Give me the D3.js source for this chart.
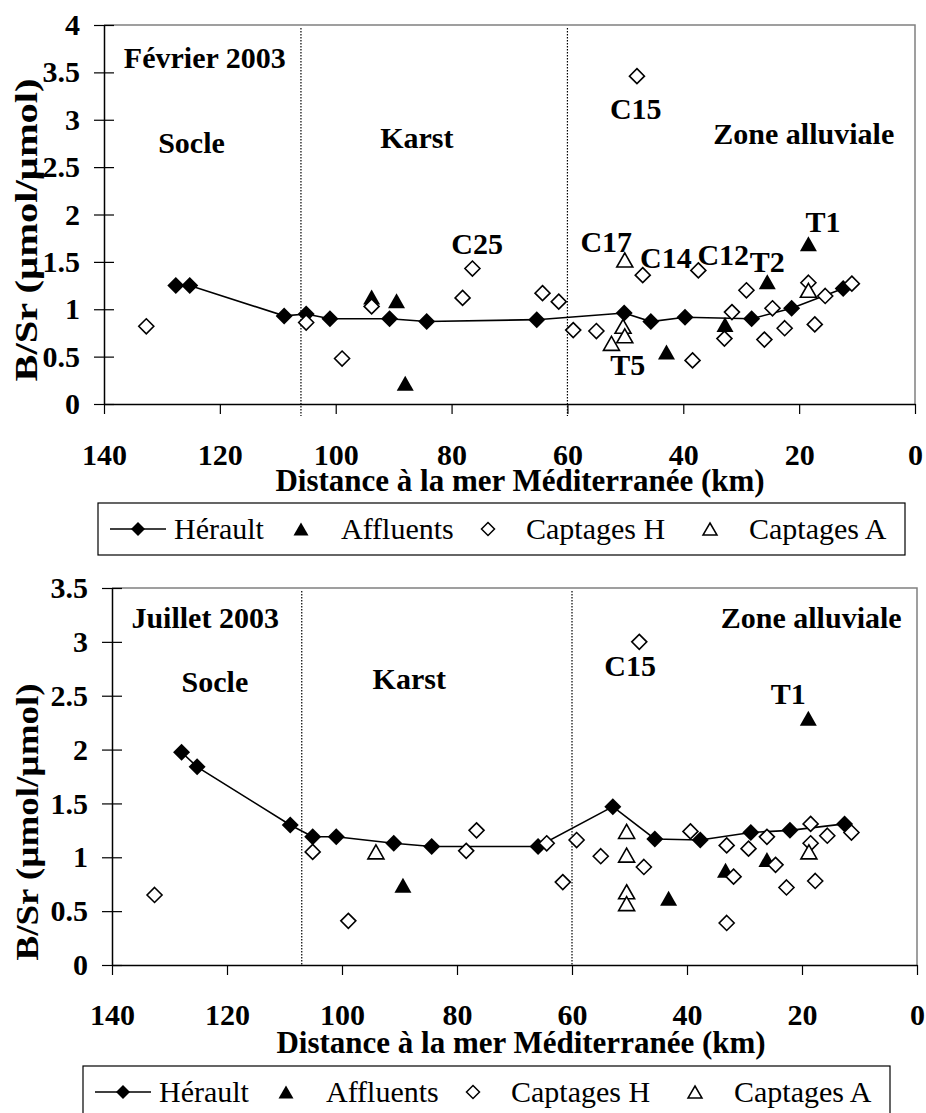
<!DOCTYPE html>
<html><head><meta charset="utf-8">
<script src="https://cdn.jsdelivr.net/npm/d3@7"></script>
<style>
body{margin:0;background:#fff}
svg{display:block}
text{font-family:"Liberation Serif","Times New Roman",serif;fill:#000}
</style>
</head><body>
<svg id="chart" width="926" height="1113"></svg>
<script>
// ---------- shared ----------
const xTicks = [140, 120, 100, 80, 60, 40, 20, 0];
const seriesNames = ["Hérault", "Affluents", "Captages H", "Captages A"];
const xTitle = "Distance à la mer Méditerranée (km)";
const yTitle = "B/Sr (µmol/µmol)";

// ---------- Février 2003 ----------
const febYTicks = [0, 0.5, 1, 1.5, 2, 2.5, 3, 3.5, 4];
const febHeraultKm  = [127.6, 125.2, 108.9, 105.1, 101.0, 90.7, 84.3, 65.3, 50.2, 45.6, 39.7, 28.2, 21.3, 12.4];
const febHeraultVal = [1.25, 1.25, 0.93, 0.95, 0.90, 0.90, 0.87, 0.89, 0.96, 0.87, 0.915, 0.90, 1.01, 1.22];
const febAffKm  = [93.8, 89.5, 88.0, 42.9, 32.8, 25.5, 18.4];
const febAffVal = [1.13, 1.09, 0.22, 0.55, 0.84, 1.29, 1.69];
const febCapHKm  = [132.7, 105.1, 98.9, 93.8, 78.1, 76.4, 64.3, 61.5, 59.0, 55.0, 48.0, 47.0, 38.4, 37.4, 32.9, 31.6, 29.1, 26.0, 24.6, 22.5, 18.4, 17.3, 15.5, 10.9];
const febCapHVal = [0.82, 0.86, 0.48, 1.03, 1.12, 1.43, 1.17, 1.08, 0.78, 0.77, 3.46, 1.36, 0.46, 1.41, 0.69, 0.97, 1.20, 0.68, 1.01, 0.80, 1.28, 0.84, 1.14, 1.27];
const febCapAKm  = [52.4, 50.4, 50.1, 50.1, 18.4];
const febCapAVal = [0.64, 0.82, 0.72, 1.52, 1.20];
const febZoneLimits = [106, 60];
const febLabelText = ["Février 2003", "Socle", "Karst", "C25", "C15", "Zone alluviale", "C17", "C14", "C12", "T2", "T1", "T5"];
const febLabelKm   = [122.6, 124.9, 86.0, 75.6, 48.2, 19.2, 53.3, 43.0, 33.1, 25.5, 15.9, 49.6];
const febLabelVal  = [3.55, 2.65, 2.70, 1.58, 3.01, 2.74, 1.60, 1.44, 1.47, 1.39, 1.82, 0.31];

// ---------- Juillet 2003 ----------
const julYTicks = [0, 0.5, 1, 1.5, 2, 2.5, 3, 3.5];
const julHeraultKm  = [127.9, 125.2, 109.0, 105.1, 101.0, 91.0, 84.4, 65.9, 52.9, 45.6, 37.7, 28.9, 22.1, 12.6];
const julHeraultVal = [1.975, 1.84, 1.30, 1.19, 1.19, 1.13, 1.10, 1.10, 1.47, 1.17, 1.16, 1.23, 1.25, 1.31];
const julAffKm  = [89.4, 43.2, 33.3, 26.1, 18.9];
const julAffVal = [0.74, 0.62, 0.88, 0.98, 2.29];
const julCapHKm  = [132.6, 105.1, 98.9, 78.4, 76.6, 64.4, 61.6, 59.2, 55.0, 48.3, 47.5, 39.4, 33.1, 33.1, 31.9, 29.3, 26.1, 24.6, 22.7, 18.5, 18.5, 17.7, 15.6, 11.4];
const julCapHVal = [0.65, 1.05, 0.41, 1.06, 1.25, 1.13, 0.77, 1.16, 1.01, 3.00, 0.91, 1.24, 1.11, 0.39, 0.82, 1.08, 1.19, 0.93, 0.72, 1.31, 1.13, 0.78, 1.20, 1.23];
const julCapAKm  = [94.1, 50.5, 50.5, 50.5, 50.5, 18.8];
const julCapAVal = [1.05, 1.24, 1.02, 0.68, 0.57, 1.05];
const julZoneLimits = [107, 60];
const julLabelText = ["Juillet 2003", "Socle", "Karst", "Zone alluviale", "C15", "T1"];
const julLabelKm   = [123.8, 122.1, 88.3, 18.4, 49.9, 22.4];
const julLabelVal  = [3.13, 2.53, 2.56, 3.13, 2.68, 2.42];

// ---------- drawing ----------
const svg = d3.select("#chart");
const zip = (a, b) => a.map((v, i) => [v, b[i]]);

const diamondPath = r => `M0,${-r}L${r},0L0,${r}L${-r},0Z`;
const triPath = (w, h) => `M0,${-h/2}L${w/2},${h/2}L${-w/2},${h/2}Z`;

function panel(cfg) {
  const g = svg.append("g");
  const x = d3.scaleLinear().domain([140, 0]).range([cfg.left, cfg.right]);
  const y = d3.scaleLinear().domain([0, cfg.yMax]).range([cfg.bottom, cfg.top]);

  // plot-area border (grey top/right)
  g.append("path")
    .attr("d", `M${cfg.left},${cfg.top}H${cfg.right}V${cfg.bottom}`)
    .attr("fill", "none").attr("stroke", "#808080").attr("stroke-width", 1.5);

  // zone limits (dotted)
  g.selectAll(".zone").data(cfg.zones).enter().append("line")
    .attr("x1", d => x(d)).attr("x2", d => x(d))
    .attr("y1", cfg.top + 3).attr("y2", cfg.bottom + cfg.zoneExtra)
    .attr("stroke", "#000").attr("stroke-width", 1.2).attr("stroke-dasharray", "1.5,1.5");

  // y axis
  const ya = g.append("g").attr("transform", `translate(${cfg.left},0)`)
    .call(d3.axisLeft(y).tickValues(cfg.yTicks).tickSize(10).tickSizeOuter(0).tickPadding(14).tickFormat(d => String(d)));
  ya.select(".domain").attr("stroke", "#000").attr("stroke-width", 1.5);
  ya.selectAll(".tick line").attr("x1", 10).attr("stroke", "#000").attr("stroke-width", 1.2);
  ya.selectAll(".tick text").attr("font-size", 30).attr("font-weight", "bold")
    .attr("font-family", "Liberation Serif").attr("fill", "#000");

  // x axis
  const xa = g.append("g").attr("transform", `translate(0,${cfg.bottom})`)
    .call(d3.axisBottom(x).tickValues(xTicks).tickSize(10).tickSizeOuter(0).tickFormat(d => String(d)));
  xa.select(".domain").attr("stroke", "#000").attr("stroke-width", 1.5);
  xa.selectAll(".tick line").attr("stroke", "#000").attr("stroke-width", 1.2);
  xa.selectAll(".tick text").attr("font-size", 30).attr("font-weight", "bold")
    .attr("font-family", "Liberation Serif").attr("fill", "#000")
    .attr("y", cfg.xLabelOffset).attr("dy", 0);

  // x title
  g.append("text").attr("x", cfg.xTitleX).attr("y", cfg.xTitleY)
    .attr("text-anchor", "middle").attr("font-size", 31).attr("font-weight", "bold")
    .text(xTitle);

  // y title
  g.append("text")
    .attr("transform", `translate(${cfg.yTitleX},${cfg.yTitleY}) rotate(-90)`)
    .attr("text-anchor", "middle").attr("font-size", 32).attr("font-weight", "bold")
    .attr("textLength", cfg.yTitleLen).attr("lengthAdjust", "spacingAndGlyphs")
    .text(yTitle);

  // Hérault line
  const her = zip(cfg.herKm, cfg.herVal);
  g.append("path").datum(her)
    .attr("d", d3.line().x(d => x(d[0])).y(d => y(d[1])))
    .attr("fill", "none").attr("stroke", "#000").attr("stroke-width", 1.6);
  g.selectAll(".her").data(her).enter().append("path")
    .attr("transform", d => `translate(${x(d[0])},${y(d[1])})`)
    .attr("d", diamondPath(8.5)).attr("fill", "#000");

  // Affluents
  g.selectAll(".aff").data(zip(cfg.affKm, cfg.affVal)).enter().append("path")
    .attr("transform", d => `translate(${x(d[0])},${y(d[1])})`)
    .attr("d", triPath(17, 15)).attr("fill", "#000");

  // Captages H
  g.selectAll(".caph").data(zip(cfg.capHKm, cfg.capHVal)).enter().append("path")
    .attr("transform", d => `translate(${x(d[0])},${y(d[1])})`)
    .attr("d", diamondPath(7.5)).attr("fill", "#fff").attr("stroke", "#000").attr("stroke-width", 1.6);

  // Captages A
  g.selectAll(".capa").data(zip(cfg.capAKm, cfg.capAVal)).enter().append("path")
    .attr("transform", d => `translate(${x(d[0])},${y(d[1])})`)
    .attr("d", triPath(16, 14)).attr("fill", "#fff").attr("stroke", "#000").attr("stroke-width", 1.6);

  // annotations
  g.selectAll(".lab").data(cfg.labText.map((t, i) => [t, cfg.labKm[i], cfg.labVal[i]])).enter().append("text")
    .attr("x", d => x(d[1])).attr("y", d => y(d[2]))
    .attr("text-anchor", "middle").attr("font-size", 30).attr("font-weight", "bold")
    .text(d => d[0]);

  // legend
  const L = g.append("g").attr("transform", `translate(${cfg.legX},${cfg.legY})`);
  L.append("rect").attr("x", 0).attr("y", 0).attr("width", 807).attr("height", 52)
    .attr("fill", "#fff").attr("stroke", "#000").attr("stroke-width", 1.2);
  const cy = 26, ty = 36;
  L.append("line").attr("x1", 12).attr("x2", 68).attr("y1", cy).attr("y2", cy)
    .attr("stroke", "#000").attr("stroke-width", 1.6);
  L.append("path").attr("transform", `translate(40,${cy})`).attr("d", diamondPath(7)).attr("fill", "#000");
  L.append("path").attr("transform", `translate(203,${cy})`).attr("d", triPath(15, 13)).attr("fill", "#000");
  L.append("path").attr("transform", `translate(390,${cy})`).attr("d", diamondPath(6.5))
    .attr("fill", "#fff").attr("stroke", "#000").attr("stroke-width", 1.5);
  L.append("path").attr("transform", `translate(612,${cy})`).attr("d", triPath(14, 12))
    .attr("fill", "#fff").attr("stroke", "#000").attr("stroke-width", 1.5);
  const tx = [76, 243, 428, 651];
  L.selectAll(".lt").data(seriesNames).enter().append("text")
    .attr("x", (d, i) => tx[i]).attr("y", ty).attr("font-size", 30).text(d => d);
}

panel({
  left: 104, right: 915, top: 25, bottom: 404, yMax: 4, yTicks: febYTicks,
  zones: febZoneLimits, zoneExtra: 12, xLabelOffset: 61,
  xTitleX: 520, xTitleY: 491, yTitleX: 37, yTitleY: 230, yTitleLen: 303,
  herKm: febHeraultKm, herVal: febHeraultVal, affKm: febAffKm, affVal: febAffVal,
  capHKm: febCapHKm, capHVal: febCapHVal, capAKm: febCapAKm, capAVal: febCapAVal,
  labText: febLabelText, labKm: febLabelKm, labVal: febLabelVal,
  legX: 98, legY: 503
});

panel({
  left: 112, right: 917, top: 588, bottom: 965, yMax: 3.5, yTicks: julYTicks,
  zones: julZoneLimits, zoneExtra: 0, xLabelOffset: 60,
  xTitleX: 521, xTitleY: 1053, yTitleX: 38, yTitleY: 822, yTitleLen: 277,
  herKm: julHeraultKm, herVal: julHeraultVal, affKm: julAffKm, affVal: julAffVal,
  capHKm: julCapHKm, capHVal: julCapHVal, capAKm: julCapAKm, capAVal: julCapAVal,
  labText: julLabelText, labKm: julLabelKm, labVal: julLabelVal,
  legX: 83, legY: 1066
});
</script>
</body></html>
